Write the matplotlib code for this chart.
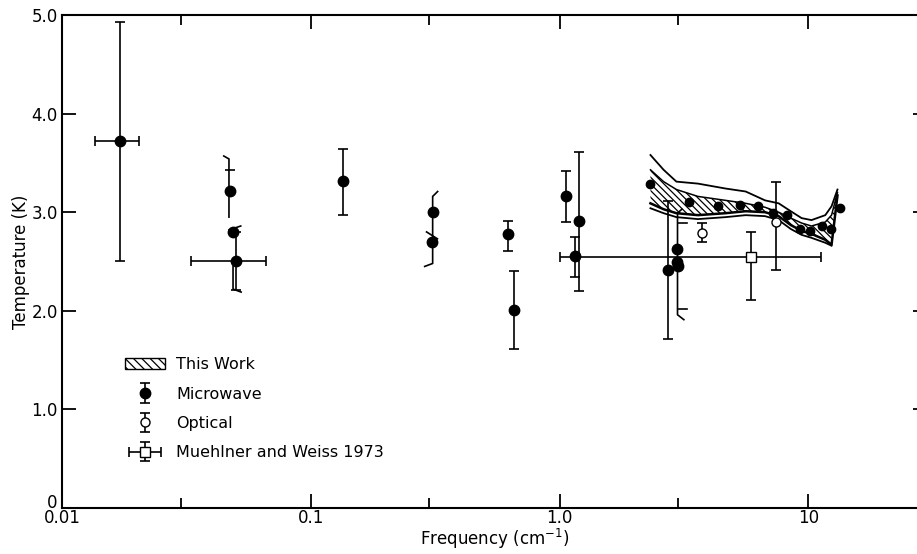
import numpy as np
import matplotlib
matplotlib.use('Agg')
import matplotlib.pyplot as plt
import matplotlib.transforms as mtransforms
from matplotlib.patches import Patch
from matplotlib.ticker import NullFormatter
from matplotlib.legend_handler import HandlerErrorbar
from matplotlib.container import ErrorbarContainer

# microwave measurements (filled circles)
mw_freq = [0.0171, 0.0472, 0.0485, 0.0501, 0.135, 0.310, 0.306, 0.622, 0.658,
           1.06, 1.20, 1.15, 2.72, 2.96, 2.97, 2.98]
mw_temp = [3.72, 3.21, 2.80, 2.51, 3.32, 3.00, 2.70, 2.78, 2.01,
           3.16, 2.91, 2.56, 2.41, 2.63, 2.50, 2.45]
mw_err_up = [1.21, 0.22, np.nan, 0.29, 0.32, np.nan, np.nan, 0.13, 0.39,
             0.26, 0.70, 0.19, 0.70, np.nan, np.nan, np.nan]
mw_err_lo = [1.21, np.nan, np.nan, 0.30, 0.35, np.nan, np.nan, 0.17, 0.40,
             0.26, 0.71, 0.22, 0.70, np.nan, np.nan, np.nan]

# the two microwave points with frequency ranges
mwx_freq = [0.0171, 0.0501]
mwx_temp = [3.72, 2.51]
mwx_err_lo = [0.0035, 0.0171]
mwx_err_up = [0.0033, 0.0159]

# optical (open circles)
opt_freq = [3.73, 7.42]
opt_temp = [2.79, 2.90]
opt_err_up = [0.10, 0.41]
opt_err_lo = [0.09, 0.49]

# Muehlner and Weiss 1973
mw73_freq = [5.89]
mw73_temp = [2.55]
mw73_xerr_lo = [4.89]
mw73_xerr_up = [5.31]
mw73_yerr_up = [0.25]
mw73_yerr_lo = [0.44]

# this work: band edges and points
band_freq = [2.32, 2.62, 2.95, 3.6, 4.65, 5.6, 6.7, 7.6, 8.5, 9.4, 10.3, 11.7, 12.4, 13.1]
band_outer = [3.58, 3.43, 3.31, 3.29, 3.24, 3.21, 3.12, 3.09, 3.01, 2.94, 2.92, 2.97, 3.06, 3.23]
band_hi = [3.43, 3.31, 3.23, 3.16, 3.12, 3.09, 3.05, 3.00, 2.94, 2.89, 2.86, 2.90, 2.97, 3.20]
band_lo = [3.09, 3.03, 2.99, 2.97, 2.99, 3.01, 3.00, 2.96, 2.87, 2.81, 2.78, 2.72, 2.67, 3.17]
band_lo2 = [3.04, 2.99, 2.95, 2.93, 2.95, 2.97, 2.96, 2.92, 2.83, 2.77, 2.74, 2.69, 2.66]
tw_freq = [2.31, 3.32, 4.32, 5.32, 6.30, 7.23, 8.18, 9.26, 10.16, 11.31, 12.29, 13.41]
tw_temp = [3.29, 3.10, 3.06, 3.07, 3.06, 2.99, 2.97, 2.83, 2.81, 2.86, 2.83, 3.04]

# hand-drawn range brackets
brA_freq = [0.0447, 0.0469, 0.0469]
brA_temp = [3.57, 3.54, 2.95]
brA2_freq = [0.0469, 0.0523]
brA2_temp = [2.82, 2.86]
brA3_freq = [0.0487, 0.0487, 0.0525]
brA3_temp = [2.45, 2.22, 2.19]
brB_freq = [0.3236, 0.309, 0.309, 0.287]
brB_temp = [3.21, 3.16, 2.48, 2.45]
brB2_freq = [0.292, 0.323]
brB2_temp = [2.80, 2.73]
brC_freq = [3.10, 2.98, 2.98, 3.16]
brC_temp = [3.03, 2.99, 1.96, 1.91]
brC_tick_freq = [2.98, 3.25]
brC_tick_temp = [2.89, 2.02]

plt.rcParams['font.family'] = 'DejaVu Sans'
plt.rcParams['hatch.linewidth'] = 0.9

fig = plt.figure(figsize=(9.17, 5.54), dpi=100)
ax = fig.add_axes([62 / 917, 46 / 554, 865 / 917, 493 / 554])
ax.set_xscale('log')

# band
ax.fill_between(band_freq, band_lo, band_hi, facecolor='none', edgecolor='black',
                hatch='\\\\\\\\\\', linewidth=0, zorder=1)
ax.plot(band_freq, band_outer, color='black', lw=1.3)
ax.plot(band_freq, band_hi, color='black', lw=1.1)
ax.plot(band_freq, band_lo, color='black', lw=1.8)
ax.plot(band_freq[:len(band_lo2)], band_lo2, color='black', lw=1.3)
ax.plot(tw_freq, tw_temp, 'o', color='black', ms=6, zorder=4)

# brackets
for bx, by in [(brA_freq, brA_temp), (brA2_freq, brA2_temp), (brA3_freq, brA3_temp),
               (brB_freq, brB_temp), (brB2_freq, brB2_temp), (brC_freq, brC_temp)]:
    ax.plot(bx, by, color='black', lw=1.2)
for t in brC_tick_temp:
    ax.plot(brC_tick_freq, [t, t], color='black', lw=1.2)

ekw = dict(ecolor='black', elinewidth=1.2, capsize=3.5, capthick=1.2)
ax.errorbar(mw_freq, mw_temp, yerr=[mw_err_lo, mw_err_up], fmt='o', color='black',
            ms=7.5, label='Microwave', zorder=3, **ekw)
ax.errorbar(mwx_freq, mwx_temp, xerr=[mwx_err_lo, mwx_err_up], fmt='none', zorder=3, **ekw)
ax.errorbar(opt_freq, opt_temp, yerr=[opt_err_lo, opt_err_up], fmt='o', mfc='white',
            mec='black', ms=6.5, label='Optical', zorder=3, **ekw)
ax.errorbar(mw73_freq, mw73_temp, xerr=[mw73_xerr_lo, mw73_xerr_up],
            yerr=[mw73_yerr_lo, mw73_yerr_up], fmt='s', mfc='white', mec='black',
            ms=6.5, label='Muehlner and Weiss 1973', zorder=3, **ekw)

ax.set_xlim(0.01, 30)
ax.set_ylim(0, 5)
ax.set_xticks([0.01, 0.1, 1, 10])
ax.set_xticklabels(['0.01', '0.1', '1.0', '10'])
ax.set_xticks([0.03, 0.3, 3], minor=True)
ax.xaxis.set_minor_formatter(NullFormatter())
ax.set_yticks([0, 1, 2, 3, 4, 5])
ax.set_yticklabels(['0', '1.0', '2.0', '3.0', '4.0', '5.0'])
ax.tick_params(which='both', direction='in', top=True, right=True, labelsize=12,
               width=1.3, pad=3)
ax.tick_params(axis='x', which='both', pad=1)
ax.tick_params(which='major', length=10)
ax.tick_params(which='minor', length=7)
for sp in ax.spines.values():
    sp.set_linewidth(1.5)

# lift the "0" a little so it sits above "0.01", as in the original
zero_lbl = ax.get_yticklabels()[0]
zero_lbl.set_transform(zero_lbl.get_transform() +
                       mtransforms.ScaledTranslation(0, 7 / 100, fig.dpi_scale_trans))

ax.set_xlabel('Frequency (cm$^{-1}$)', fontsize=12, labelpad=0)
ax.set_ylabel('Temperature (K)', fontsize=12, labelpad=1)

handles, labels = ax.get_legend_handles_labels()
tw_patch = Patch(facecolor='white', edgecolor='black', hatch='\\\\\\\\', label='This Work')
ax.legend([tw_patch] + handles, ['This Work'] + labels, loc='upper left',
          bbox_to_anchor=(0.056, 0.335), frameon=False, fontsize=11.5,
          handlelength=2.5, handletextpad=0.7, labelspacing=0.9,
          handler_map={ErrorbarContainer: HandlerErrorbar(xerr_size=1.0, yerr_size=0.6)})

fig.savefig('out.png', dpi=100)
